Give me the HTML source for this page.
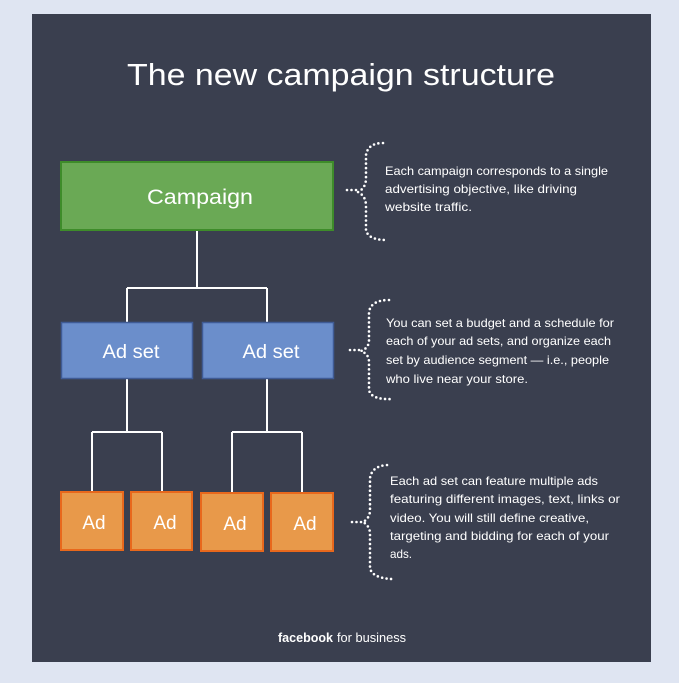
<!DOCTYPE html>
<html><head><meta charset="utf-8"><style>
html,body{margin:0;padding:0;background:#dfe5f2;}
svg{display:block;}
text{font-family:"Liberation Sans",sans-serif;fill:#fff;}
</style></head><body>
<svg width="679" height="683" viewBox="0 0 679 683" xmlns="http://www.w3.org/2000/svg">
<rect x="0" y="0" width="679" height="683" fill="#dfe5f2"/>
<rect x="32" y="14" width="619" height="648" fill="#3a3f4f"/>
<text x="127" y="85" font-size="31" textLength="428" lengthAdjust="spacingAndGlyphs">The new campaign structure</text>

<g stroke="#fff" stroke-width="2" fill="none">
<path d="M197 230 V288 M127 288 H267 M127 288 V322 M267 288 V322"/>
<path d="M127 378 V432 M92 432 H162 M92 432 V492 M162 432 V492"/>
<path d="M267 378 V432 M232 432 H302 M232 432 V492 M302 432 V492"/>
</g>

<rect x="61" y="162" width="272" height="68" fill="#6aa955" stroke="#3e8c2a" stroke-width="2"/>
<text x="200" y="204" font-size="21" text-anchor="middle" textLength="106" lengthAdjust="spacingAndGlyphs">Campaign</text>

<rect x="61.5" y="322.5" width="131" height="56" fill="#6b8ecb" stroke="#3f5b95" stroke-width="1.5"/>
<rect x="202.5" y="322.5" width="131" height="56" fill="#6b8ecb" stroke="#3f5b95" stroke-width="1.5"/>
<text x="131" y="358" font-size="19" text-anchor="middle" textLength="57" lengthAdjust="spacingAndGlyphs">Ad set</text>
<text x="271" y="358" font-size="19" text-anchor="middle" textLength="57" lengthAdjust="spacingAndGlyphs">Ad set</text>

<g fill="#e8994a" stroke="#e8681c" stroke-width="2">
<rect x="61" y="492" width="62" height="58"/>
<rect x="131" y="492" width="61" height="58"/>
<rect x="201" y="493" width="62" height="58"/>
<rect x="271" y="493" width="62" height="58"/>
</g>
<g font-size="19" text-anchor="middle">
<text x="94" y="529">Ad</text>
<text x="165" y="529">Ad</text>
<text x="235" y="530">Ad</text>
<text x="305" y="530">Ad</text>
</g>

<g stroke="#fff" stroke-width="2.6" fill="none" stroke-linecap="round" stroke-dasharray="0 4.5">
<path d="M383 143 Q368 143 366 155 V178 Q366 188 358 192 Q366 196 366 206 V230 Q368 240 387 240"/>
<path d="M347 190 H358"/>
<path d="M389 300 Q371 300 369 312 V340 Q369 348 361 351 Q369 354 369 362 V390 Q371 400 393 399"/>
<path d="M350 350 H360"/>
<path d="M387 465 Q372 466 370 478 V510 Q370 518 363 522 Q370 526 370 534 V568 Q372 578 392 579"/>
<path d="M352 522 H362"/>
</g>

<g font-size="12">
<text x="385" y="175" textLength="223" lengthAdjust="spacingAndGlyphs">Each campaign corresponds to a single</text>
<text x="385" y="193" textLength="192" lengthAdjust="spacingAndGlyphs">advertising objective, like driving</text>
<text x="385" y="211" textLength="87" lengthAdjust="spacingAndGlyphs">website traffic.</text>

<text x="386" y="327" textLength="228" lengthAdjust="spacingAndGlyphs">You can set a budget and a schedule for</text>
<text x="386" y="345" textLength="225" lengthAdjust="spacingAndGlyphs">each of your ad sets, and organize each</text>
<text x="386" y="364" textLength="223" lengthAdjust="spacingAndGlyphs">set by audience segment — i.e., people</text>
<text x="386" y="383" textLength="142" lengthAdjust="spacingAndGlyphs">who live near your store.</text>

<text x="390" y="485" textLength="208" lengthAdjust="spacingAndGlyphs">Each ad set can feature multiple ads</text>
<text x="390" y="503" textLength="230" lengthAdjust="spacingAndGlyphs">featuring different images, text, links or</text>
<text x="390" y="522" textLength="199" lengthAdjust="spacingAndGlyphs">video. You will still define creative,</text>
<text x="390" y="540" textLength="219" lengthAdjust="spacingAndGlyphs">targeting and bidding for each of your</text>
<text x="390" y="558" textLength="22" lengthAdjust="spacingAndGlyphs">ads.</text>
</g>

<text x="278" y="642" font-size="13" font-weight="bold" textLength="55" lengthAdjust="spacingAndGlyphs">facebook</text>
<text x="337" y="642" font-size="13" textLength="69" lengthAdjust="spacingAndGlyphs">for business</text>
</svg>
</body></html>
